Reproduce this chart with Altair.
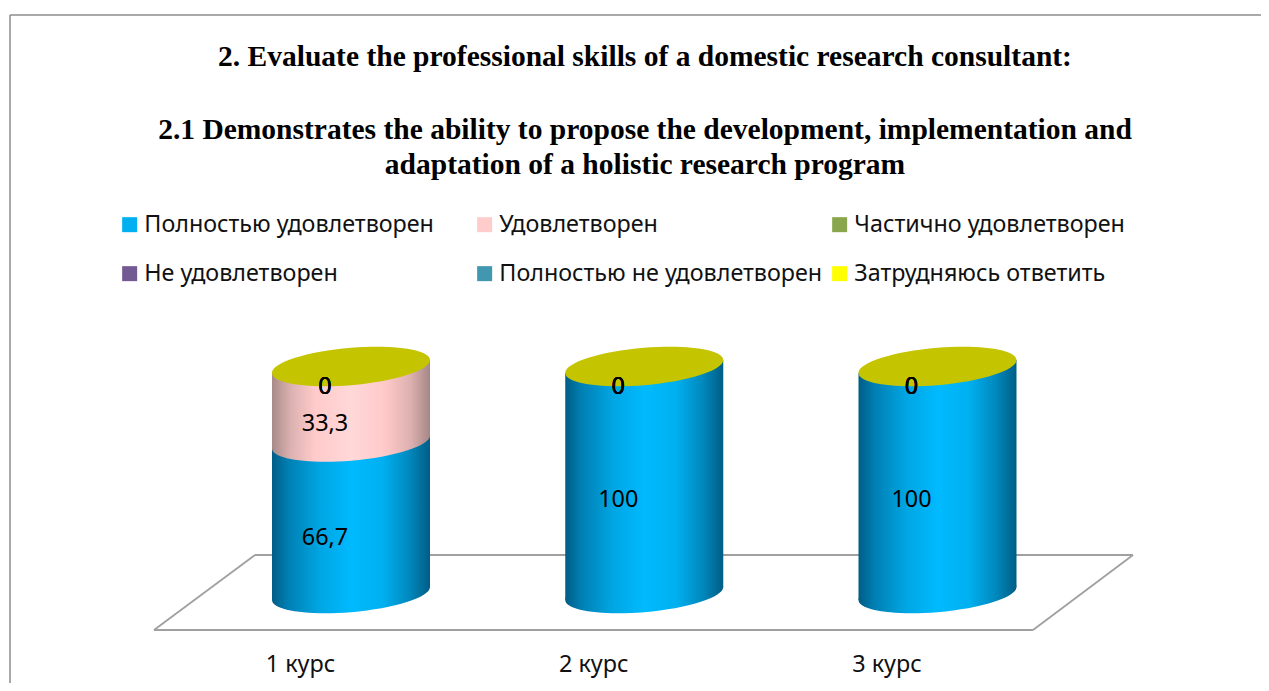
import altair as alt
import pandas as pd

courses = ["1 курс", "2 курс", "3 курс"]
series = ["Полностью удовлетворен", "Удовлетворен", "Частично удовлетворен",
          "Не удовлетворен", "Полностью не удовлетворен", "Затрудняюсь ответить"]
legend_colors = ["#00B0F0", "#FFCCCC", "#8AA64C", "#745A93", "#4197B0", "#FFFF00"]
values = {
    "Полностью удовлетворен": [66.7, 100, 100],
    "Удовлетворен": [33.3, 0, 0],
    "Частично удовлетворен": [0, 0, 0],
    "Не удовлетворен": [0, 0, 0],
    "Полностью не удовлетворен": [0, 0, 0],
    "Затрудняюсь ответить": [0, 0, 0],
}
# the legend fills column by column: this order reads row by row on the page
legend_order = [0, 3, 1, 4, 2, 5]
title_text = "2. Evaluate the professional skills of a domestic research consultant:"
subtitle_lines = [
    "2.1 Demonstrates the ability to propose the development, implementation and",
    "adaptation of a holistic research program",
]

rows = []
for ci, c in enumerate(courses):
    base = 0.0
    for s in series:
        v = values[s][ci]
        rows.append({"course": c, "series": s, "value": v, "y0": base, "y1": base + v,
                     "mid": base + v / 2,
                     "label": f"{v:g}".replace(".", ",")})
        base += v
df = pd.DataFrame(rows)

X_SCALE = alt.Scale(type="point", domain=courses, range=[343, 929.5], padding=0)
Y_SCALE = alt.Scale(domain=[0, 100], range=[585.5, 358.5])
x_enc = alt.X("course:N", scale=X_SCALE,
              axis=alt.Axis(title=None, domain=False, ticks=False, labelAngle=0,
                            labelOffset=-51, offset=-32, labelFont="Noto Sans",
                            labelFontSize=23.4, labelColor="#111111"))

ELLIPSE = ("M-1,0.0823 C-1,-0.048 -0.5523,-0.1905 0,-0.236 "
           "C0.5523,-0.2815 1,-0.2126 1,-0.0823 "
           "C1,0.048 0.5523,0.1905 0,0.236 "
           "C-0.5523,0.2815 -1,0.2126 -1,0.0823 Z")
CYL_W = 158
TILT = 6.5

blue = [(0, "#005d85"), (0.1, "#007fb3"), (0.3, "#00a6e3"), (0.5, "#00baff"),
        (0.7, "#00b0f0"), (0.87, "#0088bd"), (1, "#005d85")]
pink = [(0, "#a88a89"), (0.12, "#dcb2b1"), (0.27, "#ffcaca"), (0.5, "#ffd8d8"),
        (0.72, "#ffc8c8"), (0.88, "#dcb0af"), (1, "#a58786")]


def grad(stops):
    return alt.Gradient(gradient="linear", x1=0, x2=1, y1=0, y2=0,
                        stops=[alt.GradientStop(offset=o, color=c) for o, c in stops])


def half(stops, side):
    if side == "left":
        return [(o * 2, c) for o, c in stops if o <= 0.5]
    return [((o - 0.5) * 2, c) for o, c in stops if o >= 0.5]


layers = []

# frame (left and top edges only)
one = alt.Chart(pd.DataFrame({"a": [0]}))
frame = dict(color="#8c8c8c", strokeWidth=1.5)
layers.append(one.mark_rule(**frame).encode(x=alt.value(2), y=alt.value(7), y2=alt.value(675)))
layers.append(one.mark_rule(**frame).encode(x=alt.value(2), x2=alt.value(1253), y=alt.value(7)))

# floor
floor = dict(color="#a0a0a0", strokeWidth=1.8)
for (xa, ya, xb, yb) in [(247, 547, 1125, 547), (1125, 547, 1025, 622),
                         (1025, 622, 146, 622), (146, 622, 247, 547)]:
    layers.append(one.mark_rule(**floor).encode(x=alt.value(xa), y=alt.value(ya),
                                                x2=alt.value(xb), y2=alt.value(yb)))

# legend carrier: zero-size marks that carry the six series
layers.append(
    alt.Chart(df).mark_square(size=0, opacity=1).encode(
        x=x_enc,
        y=alt.Y("y1:Q", scale=Y_SCALE, axis=None),
        color=alt.Color("series:N",
                        scale=alt.Scale(domain=[series[i] for i in legend_order],
                                        range=[legend_colors[i] for i in legend_order]),
                        legend=alt.Legend(
                            title=None, orient="none", legendX=110, legendY=205,
                            columns=3, gridAlign="all", columnPadding=5, rowPadding=25,
                            symbolType="square", symbolSize=225, symbolOpacity=1,
                            symbolStrokeWidth=0, labelFont="Noto Sans", labelFontSize=23.3,
                            labelColor="#111111", labelLimit=400, symbolOffset=0,
                            labelOffset=3)),
    )
)

# cylinders, painted from the bottom segment up
for name, stops in [(series[0], blue), (series[1], pink)]:
    seg = alt.Chart(df[(df.series == name) & (df.value > 0)])
    layers.append(
        seg.mark_point(shape=ELLIPSE, size=CYL_W ** 2, filled=True, opacity=1,
                       fill=grad(stops), strokeWidth=0).encode(
            x=x_enc, y=alt.Y("y0:Q", scale=Y_SCALE, axis=None))
    )
    for side, sign, w, off in [("left", -1, CYL_W / 2 + 1, -CYL_W / 4 + 0.5),
                               ("right", 1, CYL_W / 2, CYL_W / 4)]:
        layers.append(
            seg.mark_bar(size=w, xOffset=off, yOffset=-sign * TILT,
                         y2Offset=-sign * TILT, fill=grad(half(stops, side)),
                         strokeWidth=0).encode(
                x=x_enc,
                y=alt.Y("y1:Q", scale=Y_SCALE, axis=None),
                y2="y0:Q")
        )

# top cap
layers.append(
    alt.Chart(df[df.series == series[-1]]).mark_point(
        shape=ELLIPSE, size=CYL_W ** 2, filled=True, opacity=1, fill="#C4C400",
        strokeWidth=0).encode(x=x_enc, y=alt.Y("y1:Q", scale=Y_SCALE, axis=None))
)

# data labels
layers.append(
    alt.Chart(df).mark_text(font="Noto Sans", fontSize=23.4, color="#000000", dx=-26, dy=20).encode(
        x=x_enc, y=alt.Y("mid:Q", scale=Y_SCALE, axis=None), text="label:N")
)

chart = alt.layer(*layers).properties(
    width=1253, height=675,
    padding=0,
    autosize=alt.AutoSizeParams(type="none"),
    title=alt.TitleParams(text=title_text, subtitle=subtitle_lines,
                          font="Liberation Serif", fontSize=29.5, fontWeight="bold",
                          color="#000000", subtitleFont="Liberation Serif",
                          subtitleFontSize=29.5, subtitleFontWeight="bold",
                          subtitleColor="#000000", subtitleLineHeight=35,
                          subtitlePadding=43, anchor="middle", dx=10.5, offset=-172),
).configure_view(stroke=None)

chart.save("out.html", embed_options={"renderer": "svg", "actions": False})
